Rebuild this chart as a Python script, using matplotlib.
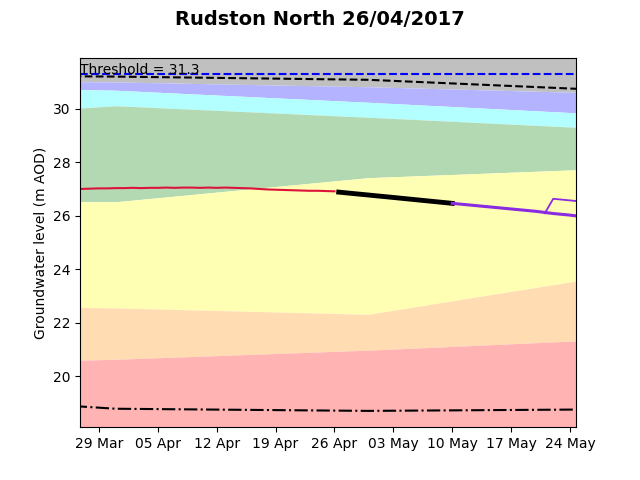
import datetime as dt

import matplotlib
matplotlib.use("Agg")

import matplotlib.pyplot as plt
import matplotlib.dates as mdates


# DATA
env_dates = [dt.datetime(2017, 3, 26), dt.datetime(2017, 3, 31),
             dt.datetime(2017, 4, 30), dt.datetime(2017, 5, 25)]
band_top   = [32.5, 32.5, 32.5, 32.5]
band_grey  = [31.01, 31.00, 30.82, 30.61]
band_blue  = [30.72, 30.69, 30.24, 29.84]
band_cyan  = [30.01, 30.11, 29.68, 29.30]
band_green = [26.52, 26.52, 27.42, 27.72]
band_yell  = [22.57, 22.55, 22.31, 23.57]
band_orng  = [20.59, 20.63, 20.97, 21.32]
band_bot   = [17.5, 17.5, 17.5, 17.5]

max_line = [31.21, 31.20, 31.08, 30.74]
min_line = [18.88, 18.78, 18.70, 18.75]
threshold = 31.3

obs_start = dt.datetime(2017, 3, 26)
obs_vals = [26.99, 27.00, 27.01, 27.02, 27.02, 27.03, 27.03, 27.04,
            27.03, 27.04, 27.04, 27.05, 27.04, 27.05, 27.05, 27.04,
            27.05, 27.04, 27.05, 27.04, 27.03, 27.02, 27.00, 26.98,
            26.97, 26.96, 26.95, 26.94, 26.93, 26.93, 26.92, 26.91]

fc_dates = [dt.datetime(2017, 4, 26, 12), dt.datetime(2017, 5, 3),
            dt.datetime(2017, 5, 10)]
fc_vals = [26.88, 26.68, 26.46]

proj_start = dt.datetime(2017, 5, 10)
proj_vals = [26.46, 26.43, 26.40, 26.37, 26.34, 26.31, 26.28, 26.25,
             26.22, 26.19, 26.16, 26.12, 26.08, 26.05, 26.02, 25.98]

alt_dates = [dt.datetime(2017, 5, 21), dt.datetime(2017, 5, 22),
             dt.datetime(2017, 5, 25)]
alt_vals = [26.09, 26.63, 26.54]

obs_dates = [obs_start + dt.timedelta(days=i) for i in range(len(obs_vals))]
proj_dates = [proj_start + dt.timedelta(days=i) for i in range(len(proj_vals))]

# PLOT
fig, ax = plt.subplots(figsize=(6.4, 4.8), dpi=100)

bands = [
    (band_top, band_grey, "#c0c0c0"),
    (band_grey, band_blue, "#b3b3ff"),
    (band_blue, band_cyan, "#b3ffff"),
    (band_cyan, band_green, "#b3d9b3"),
    (band_green, band_yell, "#ffffb3"),
    (band_yell, band_orng, "#ffdcb1"),
    (band_orng, band_bot, "#ffb3b3"),
]
for upper, lower, colour in bands:
    ax.fill_between(env_dates, lower, upper, color=colour, lw=0)

ax.axhline(threshold, color="blue", ls="--", lw=1.5)
ax.plot(env_dates, max_line, color="black", ls="--", lw=1.5)
ax.plot(env_dates, min_line, color="black", ls="-.", lw=1.5)

ax.plot(obs_dates, obs_vals, color="crimson", lw=1.5)
ax.plot(fc_dates, fc_vals, color="black", lw=3.5)
ax.plot(proj_dates, proj_vals, color="blueviolet", lw=2.2)
ax.plot(alt_dates, alt_vals, color="blueviolet", lw=1.3)

x_lo = dt.datetime(2017, 3, 26, 18)
x_hi = dt.datetime(2017, 5, 24, 17)
ax.text(x_lo, threshold, "Threshold = 31.3", fontsize=10)

ax.set_xlim(x_lo, x_hi)
ax.set_ylim(18.09, 31.91)
ax.xaxis.set_major_locator(mdates.WeekdayLocator(byweekday=mdates.WE))
ax.xaxis.set_major_formatter(mdates.DateFormatter("%d %b"))
ax.set_ylabel("Groundwater level (m AOD)")
fig.suptitle("Rudston North 26/04/2017", fontsize=14, fontweight="bold")

plt.savefig("out.png", dpi=100)
plt.close(fig)
